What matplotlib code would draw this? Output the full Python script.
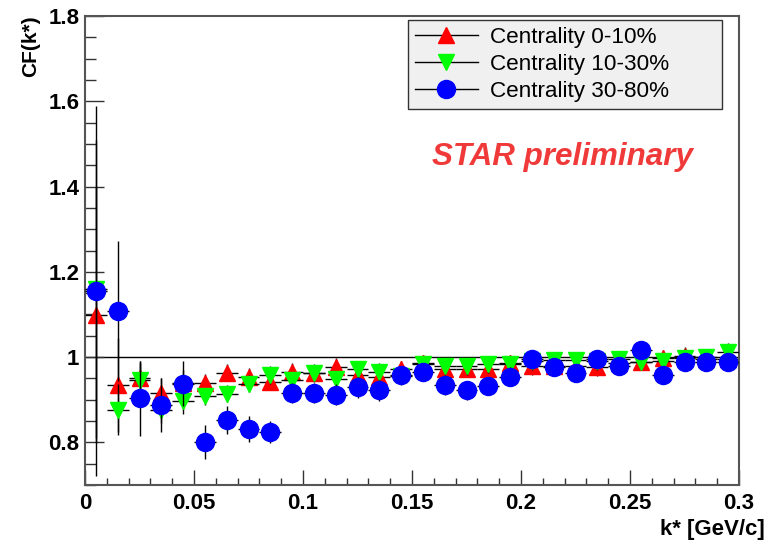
import matplotlib.pyplot as plt
from matplotlib.lines import Line2D
from matplotlib.ticker import MultipleLocator

plt.rcParams['font.family'] = ['Liberation Sans', 'DejaVu Sans']

# k* bin centres [GeV/c]
kstar = [0.005, 0.015, 0.025, 0.035, 0.045, 0.055, 0.065, 0.075, 0.085, 0.095,
         0.105, 0.115, 0.125, 0.135, 0.145, 0.155, 0.165, 0.175, 0.185, 0.195,
         0.205, 0.215, 0.225, 0.235, 0.245, 0.255, 0.265, 0.275, 0.285, 0.295]
bin_halfwidth = 0.005

# Correlation function, centrality 0-10%
cf_0_10 = [1.099, 0.934, 0.950, 0.916, 0.940, 0.940, 0.963, 0.954, 0.942, 0.966,
           0.963, 0.977, 0.958, 0.954, 0.971, 0.985, 0.971, 0.973, 0.973, 0.985,
           0.978, 0.980, 0.978, 0.976, 0.985, 0.989, 0.997, 1.003, 0.995, 0.995]
err_0_10 = [0.30, 0.11, 0.04, 0.035, 0.03, 0.02, 0.02, 0.02, 0.02, 0.02,
            0.02, 0.02, 0.02, 0.02, 0.02, 0.02, 0.02, 0.02, 0.02, 0.02,
            0.02, 0.02, 0.02, 0.02, 0.02, 0.02, 0.02, 0.02, 0.02, 0.02]

# Centrality 10-30%
cf_10_30 = [1.160, 0.877, 0.946, 0.875, 0.896, 0.908, 0.914, 0.938, 0.958, 0.946,
            0.962, 0.948, 0.972, 0.966, 0.955, 0.983, 0.979, 0.979, 0.983, 0.983,
            0.990, 0.993, 0.993, 0.990, 0.995, 0.989, 0.990, 0.998, 1.000, 1.012]
err_10_30 = [0.35, 0.06, 0.04, 0.03, 0.03, 0.02, 0.02, 0.02, 0.02, 0.02,
             0.02, 0.02, 0.02, 0.02, 0.02, 0.02, 0.02, 0.02, 0.02, 0.02,
             0.02, 0.02, 0.02, 0.02, 0.02, 0.02, 0.02, 0.02, 0.02, 0.02]

# Centrality 30-80%
cf_30_80 = [1.155, 1.108, 0.903, 0.887, 0.938, 0.800, 0.853, 0.832, 0.824, 0.916,
            0.916, 0.912, 0.929, 0.922, 0.958, 0.965, 0.934, 0.922, 0.932, 0.954,
            0.995, 0.977, 0.962, 0.995, 0.979, 1.016, 0.958, 0.989, 0.989, 0.989]
err_30_80 = [0.435, 0.165, 0.087, 0.063, 0.053, 0.040, 0.033, 0.030, 0.026, 0.024,
             0.024, 0.024, 0.024, 0.024, 0.022, 0.022, 0.022, 0.022, 0.022, 0.022,
             0.020, 0.020, 0.020, 0.020, 0.020, 0.020, 0.020, 0.020, 0.020, 0.020]

x_ticks = [0, 0.05, 0.1, 0.15, 0.2, 0.25, 0.3]
x_ticklabels = ['0', '0.05', '0.1', '0.15', '0.2', '0.25', '0.3']
y_ticks = [0.8, 1.0, 1.2, 1.4, 1.6, 1.8]
y_ticklabels = ['0.8', '1', '1.2', '1.4', '1.6', '1.8']

series = [
    ('Centrality 0-10%', cf_0_10, err_0_10, '^', '#ff0000', 11),
    ('Centrality 10-30%', cf_10_30, err_10_30, 'v', '#00ff00', 11),
    ('Centrality 30-80%', cf_30_80, err_30_80, 'o', '#0000ff', 13),
]

fig = plt.figure(figsize=(7.67, 5.41), dpi=100)
ax = fig.add_axes([85 / 767, 56 / 541, 654 / 767, 469 / 541])

ax.axhline(1.0, color='black', lw=1, zorder=1)

handles = []
for i, (label, vals, errs, mk, col, ms) in enumerate(series):
    ax.errorbar(kstar, vals, yerr=errs, xerr=bin_halfwidth, fmt=mk, ms=ms,
                mfc=col, mec=col, ecolor='black', elinewidth=1, capsize=0,
                zorder=2 + i)
    handles.append(Line2D([], [], color='black', lw=1, marker=mk, ms=ms,
                          mfc=col, mec=col, label=label))

ax.set_xlim(0, 0.3)
ax.set_ylim(0.7, 1.8)
ax.set_xticks(x_ticks)
ax.set_xticklabels(x_ticklabels, fontweight='bold', fontsize=16)
ax.set_yticks(y_ticks)
ax.set_yticklabels(y_ticklabels, fontweight='bold', fontsize=16)
ax.xaxis.set_minor_locator(MultipleLocator(0.01))
ax.yaxis.set_minor_locator(MultipleLocator(0.05))
ax.tick_params(which='both', direction='in', top=False, right=False,
               color='#333333', width=1)
ax.tick_params(axis='y', which='major', length=14, pad=4)
ax.tick_params(axis='y', which='minor', length=8)
ax.tick_params(axis='x', which='major', length=11, pad=6)
ax.tick_params(axis='x', which='minor', length=5)
for sp in ax.spines.values():
    sp.set_color('#555555')
    sp.set_linewidth(1.5)

fig.text(0.997, 0.022, 'k* [GeV/c]', ha='right', va='center',
         fontsize=16, fontweight='bold')
fig.text(0.040, 0.972, 'CF(k*)', ha='center', va='top', rotation=90,
         fontsize=15, fontweight='bold')

ax.text(0.159, 1.47, 'STAR preliminary', color='#f03a3a', fontsize=22.6,
        fontweight='bold', fontstyle='italic', ha='left', va='center')

leg = ax.legend(handles=handles, loc='upper left',
                bbox_to_anchor=(408 / 767, 1 - 109 / 541, 314 / 767, 89 / 541),
                bbox_transform=fig.transFigure, mode='expand', borderaxespad=0,
                fontsize=16.2, handlelength=2.8, handletextpad=0.55,
                labelspacing=0.28, borderpad=0.3, fancybox=False,
                framealpha=1, facecolor='#f0f0f0', edgecolor='#333333')
leg.get_frame().set_linewidth(1)

fig.savefig('out.png', dpi=100)
